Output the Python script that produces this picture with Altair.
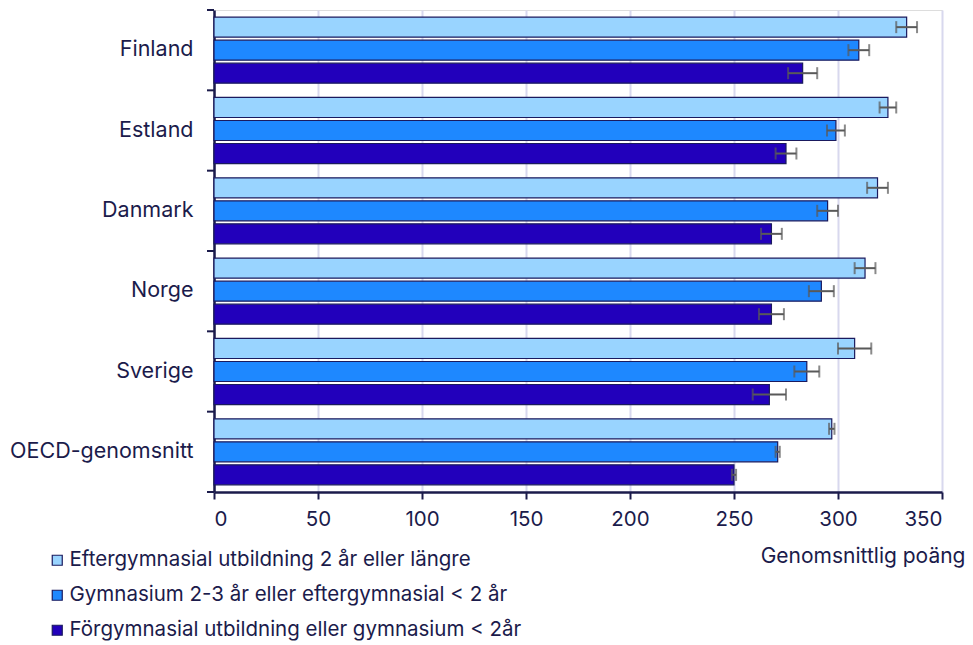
import altair as alt
import pandas as pd

countries = ["Finland", "Estland", "Danmark", "Norge", "Sverige", "OECD-genomsnitt"]
series = [
    "Eftergymnasial utbildning 2 år eller längre",
    "Gymnasium 2-3 år eller eftergymnasial < 2 år",
    "Förgymnasial utbildning eller gymnasium < 2år",
]
high_vals = [333, 324, 319, 313, 308, 297]
high_err = [5, 4, 5, 5, 8, 1.3]
mid_vals = [310, 299, 295, 292, 285, 271]
mid_err = [5, 4.3, 5, 6, 6, 1]
low_vals = [283, 275, 268, 268, 267, 250]
low_err = [7, 5, 5, 6, 8, 1]
colors = ["#99d4ff", "#1e88ff", "#2200bb"]
x_ticks = [0, 50, 100, 150, 200, 250, 300, 350]
x_title = "Genomsnittlig poäng"

NAVY = "#1b1b4b"
FONT = "Inter"

rows = []
for s, vals, errs in zip(series, [high_vals, mid_vals, low_vals], [high_err, mid_err, low_err]):
    for c, v, e in zip(countries, vals, errs):
        rows.append({"country": c, "series": s, "value": v, "lo": v - e, "hi": v + e})
df = pd.DataFrame(rows)
bounds_top = pd.DataFrame({"country": countries})
bounds_bottom = pd.DataFrame({"country": [countries[-1]]})

y_scale = alt.Scale(domain=countries, paddingInner=0, paddingOuter=0)
yoff = alt.YOffset("series:N", sort=series,
                   scale=alt.Scale(domain=series, paddingInner=0.13, paddingOuter=0.31))
x_enc_scale = alt.Scale(domain=[0, 350], nice=False)

bars = alt.Chart(df).mark_bar(stroke="#1a1a5e", strokeWidth=1.2).encode(
    x=alt.X("value:Q", scale=x_enc_scale,
            axis=alt.Axis(values=x_ticks, title=x_title, grid=True, gridColor="#d8d8ee",
                          gridWidth=2, tickSize=7, tickColor=NAVY, tickWidth=2,
                          domainColor=NAVY, domainWidth=2.5, labelFontSize=20.5,
                          labelColor=NAVY, labelPadding=10, labelFont=FONT,
                          titleFont=FONT, titleFontSize=21, titleFontWeight="normal",
                          titleColor=NAVY, titleX=751, titleY=64, titleAlign="right",
                          titleBaseline="middle", titleAnchor="end")),
    y=alt.Y("country:N", sort=countries, scale=y_scale,
            axis=alt.Axis(title=None, ticks=False, domainColor=NAVY, domainWidth=2.5,
                          labelFontSize=21.5, labelColor=NAVY, labelFont=FONT,
                          labelPadding=21, grid=False, labelLimit=0)),
    yOffset=yoff,
    color=alt.Color("series:N", sort=series,
                    scale=alt.Scale(domain=series, range=colors),
                    legend=alt.Legend(title=None, orient="none", legendX=-167, legendY=540,
                                      direction="vertical", symbolType="square",
                                      symbolSize=100, symbolStrokeColor="#1a1a5e",
                                      symbolStrokeWidth=1.2, labelFontSize=20.5,
                                      labelFont=FONT, labelColor=NAVY, rowPadding=14,
                                      labelOffset=2, labelLimit=0)),
)

err_line = alt.Chart(df).mark_rule(color="#595959", strokeWidth=2).encode(
    x=alt.X("lo:Q", scale=x_enc_scale), x2="hi:Q",
    y=alt.Y("country:N", sort=countries, scale=y_scale), yOffset=yoff,
)
err_caps = alt.Chart(df).transform_fold(["lo", "hi"], as_=["end", "xv"]).mark_tick(
    color="#595959", thickness=2, size=12
).encode(
    x=alt.X("xv:Q", scale=x_enc_scale),
    y=alt.Y("country:N", sort=countries, scale=y_scale), yOffset=yoff,
)

ticks_top = alt.Chart(bounds_top).mark_rule(color=NAVY, strokeWidth=2).encode(
    y=alt.Y("country:N", sort=countries, scale=y_scale, bandPosition=0),
    x=alt.value(-7), x2=alt.value(0),
)
ticks_bottom = alt.Chart(bounds_bottom).mark_rule(color=NAVY, strokeWidth=2).encode(
    y=alt.Y("country:N", sort=countries, scale=y_scale, bandPosition=1),
    x=alt.value(-7), x2=alt.value(0),
)

chart = alt.layer(bars, err_line, err_caps, ticks_top, ticks_bottom).properties(
    width=728, height=482,
    autosize=alt.AutoSizeParams(type="none"),
    padding={"left": 206, "top": 2, "right": 23, "bottom": 150},
).configure_view(stroke=None).configure(font=FONT)

chart.save("out.html", embed_options={"renderer": "svg", "actions": False})
